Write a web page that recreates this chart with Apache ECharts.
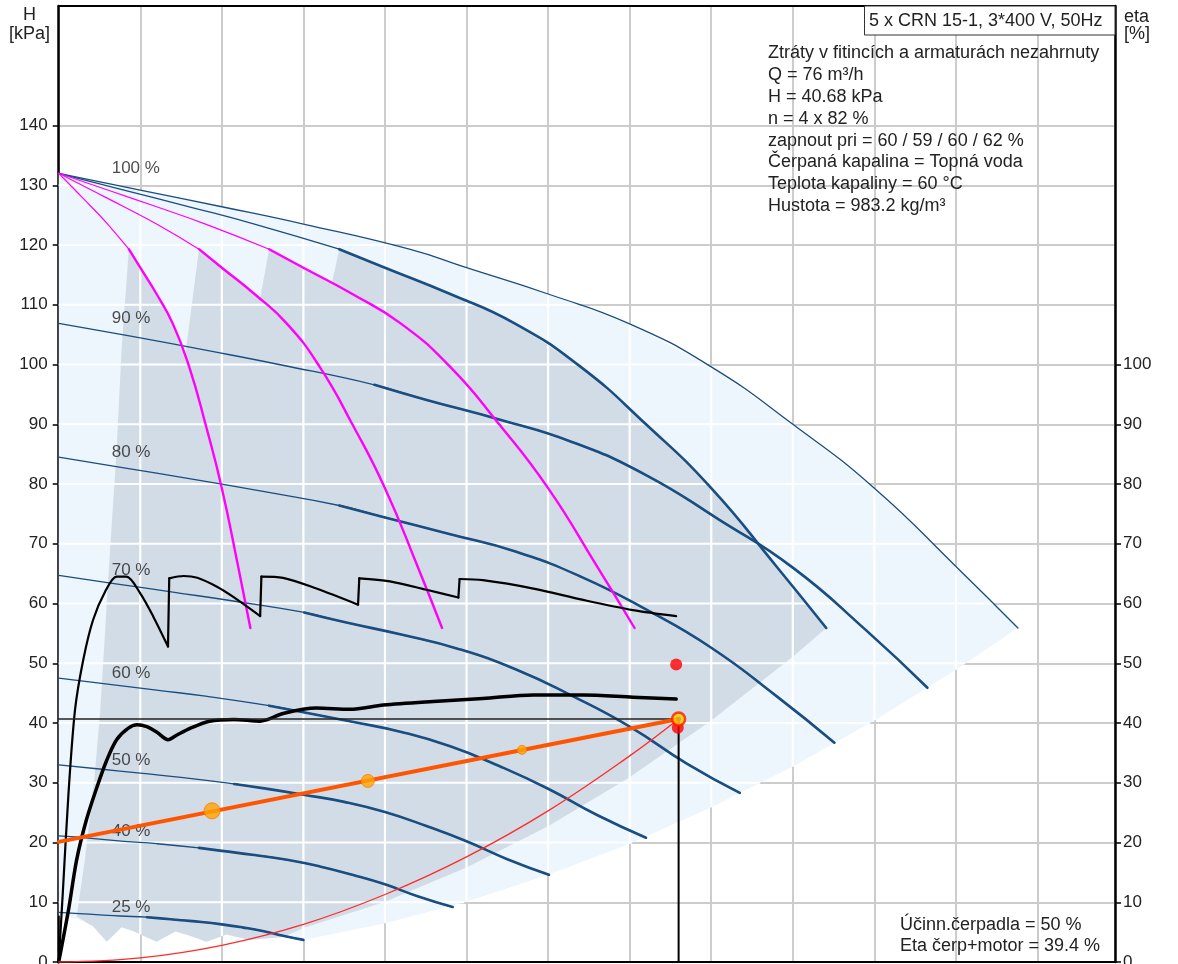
<!DOCTYPE html>
<html>
<head>
<meta charset="utf-8">
<script src="https://cdn.jsdelivr.net/npm/echarts@6/dist/echarts.min.js"></script>
<style>
  html, body { margin: 0; padding: 0; background: #fff; }
  #chart { width: 1178px; height: 964px; }
</style>
</head>
<body>
<div id="chart"></div>
<script>
// ---- pump curves at 100 % speed (1..5 pumps share the head values)
const headFull = [132, 129.2, 126.4, 123.5, 119.3, 116.2, 111.8, 106.8, 99.6, 90, 79.3, 66.2, 55.9];
const q1Pump = [0, 2, 4, 6, 8.6, 10, 12, 14, 16, 18, 20, 22, 23.5];
const q2Pump = [0, 4, 8, 12, 17.2, 20, 24, 28, 32, 36, 40, 44, 47];
const q3Pump = [0, 6, 12, 18, 25.8, 30, 36, 42, 48, 54, 60, 66, 70.6];
const q4Pump = [0, 8, 16, 24, 34.4, 40, 48, 56, 64, 72, 80, 88, 94.1];
const q5Pump = [0, 10, 20, 30, 43, 50, 60, 70, 80, 90, 100, 110, 117.6];

// ---- speed curves (5 pumps)
const speedNames = ['100 %', '90 %', '80 %', '70 %', '60 %', '50 %', '40 %', '25 %'];
const speedQ = [
  q5Pump,
  [0, 9, 18, 27, 38.7, 45, 54, 63, 72, 81, 90, 99, 106.5],
  [0, 8, 16, 24, 34.4, 40, 48, 56, 64, 72, 80, 88, 95.1],
  [0, 7, 14, 21, 30.1, 35, 42, 49, 56, 63, 70, 77, 83.5],
  [0, 6, 12, 18, 25.8, 30, 36, 42, 48, 54, 60, 66, 72],
  [0, 5, 10, 15, 21.5, 25, 30, 35, 40, 45, 50, 55, 60.1],
  [0, 4, 8, 12, 17.2, 20, 24, 28, 32, 36, 40, 44, 48.3],
  [0, 2.5, 5, 7.5, 10.8, 12.5, 15, 17.5, 20, 22.5, 25, 27.5, 30]
];
const speedH = [
  headFull,
  [106.9, 104.7, 102.4, 100, 96.6, 94.1, 90.8, 87, 81.5, 74, 66, 55.5, 45.9],
  [84.5, 82.7, 80.9, 79, 76.4, 74.4, 71.6, 68.7, 64.5, 59, 52.6, 44.5, 36.7],
  [64.7, 63.3, 61.9, 60.5, 58.5, 56.9, 54.8, 52.4, 49, 44.5, 39.4, 33.2, 28.3],
  [47.5, 46.5, 45.5, 44.5, 42.9, 41.8, 40.2, 38.5, 36.1, 32.8, 29, 24.6, 20.8],
  [33, 32.3, 31.6, 30.9, 29.8, 29.1, 28, 26.8, 25.1, 22.8, 20.2, 17.2, 14.6],
  [21.1, 20.7, 20.2, 19.8, 19.1, 18.6, 17.9, 17.1, 16, 14.6, 13, 11, 9.2],
  [8.3, 8.1, 7.9, 7.7, 7.5, 7.3, 7, 6.7, 6.3, 5.8, 5.2, 4.4, 3.7]
];

// ---- operating area boundaries
const minFlowQ = [8.6, 7.7, 7.1, 6.3, 5.1, 4.4, 3.2, 2.2];
const minFlowH = [119.3, 102.4, 85.7, 69, 42.2, 31, 17, 7.6];
const switchQ = [15.5, 24.7, 33.5];
const switchH = [101.4, 111.1, 113.6];
const limit4Q = [94.1, 90, 80, 70, 60, 50, 40, 30];
const limit4H = [55.9, 51.1, 40.4, 30.9, 22.7, 15.8, 10.1, 5.7];
const limit5Q = [117.6, 110, 100, 90, 80, 70, 60, 50, 40, 30];
const limit5H = [55.9, 48.9, 40.4, 32.7, 25.9, 19.8, 14.6, 10.1, 6.5, 3.7];
const floorQ = [27.5, 23.4, 20.6, 18.1, 16.1, 14.3, 12, 9.1, 7.7, 5.9, 4.2, 2.2, 0];
const floorH = [4.2, 3.7, 4.6, 3.4, 4.4, 5.1, 3.4, 5.2, 5.8, 3.4, 6.0, 7.3, 7.8];

// ---- efficiency curves
const etaPumpQ = [0, 0.5, 1.2, 2, 3, 4.2, 5.7, 7.1, 8.3, 10, 11.6, 13.4, 13.55, 15.3, 17, 19.4, 21.4, 24.7, 24.85, 27.5, 31.6, 36.7, 36.85, 40.6, 45.1, 49, 49.15, 52, 58.2, 64.3, 70.4, 75.7];
const etaPumpH = [0, 11.5, 28.2, 42.2, 50.5, 57.2, 62, 64.5, 64.5, 61.7, 57.8, 52.8, 64.2, 64.6, 64.3, 62.8, 61.1, 57.9, 64.5, 64.3, 62.5, 59.8, 64.2, 63.7, 62.3, 61, 64.1, 63.9, 62.5, 60.6, 58.9, 57.9];
const etaTotalQ = [0, 1.2, 2.2, 3.4, 4.7, 5.9, 7.1, 8.5, 9.6, 10.8, 12, 13.4, 14.5, 16.1, 18.5, 21.5, 24.7, 27.5, 31.6, 35.7, 39.8, 45.9, 52, 58.2, 64.3, 70.4, 75.7];
const etaTotalH = [0, 8.7, 17.1, 23.8, 29.3, 33.8, 37.2, 39.1, 39.7, 39.4, 38.5, 37.2, 38, 39.1, 40.3, 40.6, 40.3, 41.6, 42.5, 42.3, 43, 43.6, 44.1, 44.7, 44.7, 44.3, 44];

// ---- system / control curves, duty point
const systemQ = [0, 10, 20, 30, 40, 50, 60, 70, 76];
const systemH = [0, 0.7, 2.8, 6.3, 11.3, 17.6, 25.3, 34.5, 40.68];
const controlQ = [0, 76];
const controlH = [20.1, 40.68];
const controlMarkQ = [18.8, 37.9, 56.8];
const controlMarkH = [25.3, 30.3, 35.5];
const dutyQ = 76;
const dutyH = 40.68;
const redDotQ = [75.9, 75.7];
const redDotH = [39.2, 49.8];

// ---- axis labels
const leftTicks = [0, 10, 20, 30, 40, 50, 60, 70, 80, 90, 100, 110, 120, 130, 140];
const rightTicks = [0, 10, 20, 30, 40, 50, 60, 70, 80, 90, 100];
const infoTitle = '5 x CRN 15-1, 3*400 V, 50Hz';
const infoLines = [
  'Ztráty v fitincích a armaturách nezahrnuty',
  'Q = 76 m³/h',
  'H = 40.68 kPa',
  'n = 4 x 82 %',
  'zapnout pri = 60 / 59 / 60 / 62 %',
  'Čerpaná kapalina = Topná voda',
  'Teplota kapaliny = 60 °C',
  'Hustota = 983.2 kg/m³'
];
const bottomLines = ['Účinn.čerpadla = 50 %', 'Eta čerp+motor = 39.4 %'];

const X_MAX = 129.5, Y_MAX = 160;
const FONT = '"Liberation Sans", Arial, sans-serif';
const BLUE = '#1a4d80';
const MAGENTA = '#ff00ff';

function zip(qs, hs, from, to) {
  const out = [];
  for (let i = from || 0; i < (to === undefined ? qs.length : to); i++) out.push([qs[i], hs[i]]);
  return out;
}

// outer (light) area: 5 pump envelope
const outerPoly = [].concat(
  zip(q5Pump, headFull),
  zip(limit5Q, limit5H, 1),
  zip(floorQ, floorH)
);

// inner (dark) area: staged operation
let darkPoly = [];
[q1Pump, q2Pump, q3Pump].forEach((qs, k) => {
  zip(qs, headFull, 4).forEach(p => { if (p[0] < switchQ[k]) darkPoly.push(p); });
  darkPoly.push([switchQ[k], switchH[k]]);
});
darkPoly = darkPoly.concat(zip(q4Pump, headFull, 4), zip(limit4Q, limit4H, 1));
floorQ.forEach((q, i) => { if (q > minFlowQ[minFlowQ.length - 1]) darkPoly.push([q, floorH[i]]); });
darkPoly = darkPoly.concat(zip(minFlowQ, minFlowH).reverse());

function inside(poly, x, y) {
  let c = false;
  for (let i = 0, j = poly.length - 1; i < poly.length; j = i++) {
    const xi = poly[i][0], yi = poly[i][1], xj = poly[j][0], yj = poly[j][1];
    if ((yi > y) !== (yj > y) && x < (xj - xi) * (y - yi) / (yj - yi) + xi) c = !c;
  }
  return c;
}

// grid lines are white where they cross the shaded area
const whiteSegs = [];
function runs(fixed, vertical, max, step) {
  let start = null;
  for (let t = 0; t <= max + 1e-9; t += step) {
    const inn = vertical ? inside(outerPoly, fixed, t) : inside(outerPoly, t, fixed);
    if (inn && start === null) start = t;
    if ((!inn || t + step > max) && start !== null) {
      const end = inn ? t : t - step;
      whiteSegs.push(vertical ? [fixed, start, fixed, end] : [start, fixed, end, fixed]);
      start = null;
    }
  }
}
for (let v = 10; v < X_MAX; v += 10) runs(v, true, Y_MAX, 0.05);
for (let v = 10; v < Y_MAX; v += 10) runs(v, false, X_MAX, 0.05);

function polySeries(poly, color) {
  return {
    type: 'custom', silent: true, z: 1, clip: true, data: [[0, 0]],
    renderItem: (params, api) => ({
      type: 'polygon',
      shape: { points: poly.map(p => api.coord(p)) },
      style: { fill: color }
    })
  };
}

function curve(data, color, width, z, smooth) {
  return {
    type: 'line', data, showSymbol: false, silent: true, z: z || 3,
    smooth: smooth === undefined ? 0.5 : smooth,
    lineStyle: { color, width, cap: 'round', join: 'round' }
  };
}

// a curve with vertical steps: smooth pieces joined by straight jumps
function steppedCurve(qs, hs, color, width, z) {
  const out = [];
  let piece = [[qs[0], hs[0]]];
  for (let i = 1; i < qs.length; i++) {
    if (qs[i] - qs[i - 1] < 0.3) {
      out.push(curve(piece, color, width, z, 0.3));
      out.push(curve([[qs[i - 1], hs[i - 1]], [qs[i], hs[i]]], color, width, z, false));
      piece = [];
    }
    piece.push([qs[i], hs[i]]);
  }
  out.push(curve(piece, color, width, z, 0.3));
  return out;
}

const series = [
  polySeries(outerPoly, '#edf5fd'),
  polySeries(darkPoly, '#d1dce7'),
  {
    type: 'custom', silent: true, z: 1, clip: true, data: whiteSegs,
    encode: { x: [0, 2], y: [1, 3] },
    renderItem: (params, api) => {
      const a = api.coord([api.value(0), api.value(1)]);
      const b = api.coord([api.value(2), api.value(3)]);
      return { type: 'line', shape: { x1: a[0], y1: a[1], x2: b[0], y2: b[1] }, style: { stroke: '#ffffff', lineWidth: 2.2 } };
    }
  }
];

// speed curves: thin at low flow, thick in the working range
speedQ.forEach((qs, i) => {
  series.push(curve(zip(qs, speedH[i]), BLUE, 1.3, 3));
  if (i > 0) series.push(curve(zip(qs, speedH[i], 4), BLUE, 2.6, 3));
});
// 4 pumps at 100 %
series.push(curve(zip(q4Pump, headFull, 0, 5), BLUE, 1.3, 3));
series.push(curve(zip(q4Pump, headFull, 4), BLUE, 2.6, 3));
// 1..3 pumps at 100 %
[q1Pump, q2Pump, q3Pump].forEach(qs => {
  series.push(curve(zip(qs, headFull, 0, 5), MAGENTA, 1.2, 4));
  series.push(curve(zip(qs, headFull, 4), MAGENTA, 2.4, 4));
});

// speed labels
series.push({
  type: 'scatter', symbolSize: 0, silent: true, z: 5,
  data: speedNames.map((n, i) => ({ name: n, value: [speedQ[i][0], speedH[i][0]] })),
  label: {
    show: true, formatter: '{b}', position: [53, -5], align: 'left', verticalAlign: 'middle',
    fontSize: 17, fontFamily: FONT, color: '#222'
  }
});

steppedCurve(etaPumpQ, etaPumpH, '#000', 2.2, 6).forEach(s => series.push(s));
series.push(curve(zip(etaTotalQ, etaTotalH), '#000', 3.5, 6, 0.3));
// duty point guide lines
series.push(curve([[0, dutyH], [dutyQ, dutyH]], '#222', 1.5, 6, false));
series.push(curve([[dutyQ, dutyH], [dutyQ, 0]], '#000', 2, 6, false));
// system curve
series.push(curve(zip(systemQ, systemH), '#ff2a2a', 1.3, 7, 0.4));
// control curve
series.push(curve(zip(controlQ, controlH), '#ff5500', 4, 7, false));
const markSizes = [16, 13, 9];
series.push({
  type: 'scatter', silent: true, z: 8,
  data: controlMarkQ.map((q, i) => ({ value: [q, controlMarkH[i]], symbolSize: markSizes[i] })),
  itemStyle: { color: '#ffa500', borderColor: '#ff7a00', borderWidth: 1 }
});
series.push({
  type: 'scatter', silent: true, z: 8, symbolSize: 12,
  data: zip(redDotQ, redDotH),
  itemStyle: { color: '#ff0000' }
});
series.push({
  type: 'scatter', silent: true, z: 9, symbolSize: 13,
  data: [[dutyQ, dutyH]],
  itemStyle: { color: '#ffd000', borderColor: '#ff1a00', borderWidth: 2.5 }
});
series.push({
  type: 'scatter', silent: true, z: 10, symbolSize: 5,
  data: [[dutyQ, dutyH]],
  itemStyle: { color: '#e89a20' }
});

const textStyle = (text, x, y, extra) => ({
  type: 'text', x, y, z: 100,
  style: Object.assign({
    text, fill: '#222', font: '18px ' + FONT,
    textAlign: 'left', align: 'left', textVerticalAlign: 'middle', verticalAlign: 'middle'
  }, extra || {})
});

const graphic = [
  { type: 'rect', z: 99, shape: { x: 864.5, y: 6, width: 250.5, height: 29 }, style: { fill: '#fff', stroke: '#333', lineWidth: 1 } },
  textStyle(infoTitle, 869, 21),
  textStyle('H', 29.5, 15.5, { textAlign: 'center', align: 'center' }),
  textStyle('[kPa]', 29.5, 34, { textAlign: 'center', align: 'center' }),
  textStyle('eta', 1124, 17),
  textStyle('[%]', 1124, 34.5)
];
infoLines.forEach((t, i) => graphic.push(textStyle(t, 768, 53 + i * 21.9)));
bottomLines.forEach((t, i) => graphic.push(textStyle(t, 900, 925.5 + i * 20.5)));

const chart = echarts.init(document.getElementById('chart'));
chart.setOption({
  animation: false,
  grid: { left: 58.7, right: 63, top: 6, bottom: 2, containLabel: false, outerBoundsMode: 'none' },
  xAxis: [
    {
      type: 'value', min: 0, max: X_MAX, interval: 10,
      axisLine: { show: true, onZero: false, lineStyle: { color: '#000', width: 2 } },
      axisTick: { show: false }, axisLabel: { show: false },
      splitLine: { show: true, lineStyle: { color: '#cccccc', width: 2 } }
    },
    {
      type: 'value', position: 'top', min: 0, max: X_MAX, interval: 10,
      axisLine: { show: true, onZero: false, lineStyle: { color: '#000', width: 2 } },
      axisTick: { show: false }, axisLabel: { show: false }, splitLine: { show: false }
    }
  ],
  yAxis: [
    {
      type: 'value', position: 'left', min: 0, max: Y_MAX, interval: 10,
      axisLine: { show: true, onZero: false, lineStyle: { color: '#000', width: 2.5 } },
      axisTick: { show: true, length: 6, customValues: leftTicks, lineStyle: { color: '#000', width: 1.5 } },
      axisLabel: { customValues: leftTicks, fontSize: 17, fontFamily: FONT, color: '#222', margin: 11 },
      splitLine: { show: true, lineStyle: { color: '#cccccc', width: 2 } }
    },
    {
      type: 'value', position: 'right', min: 0, max: Y_MAX, interval: 10,
      axisLine: { show: true, onZero: false, lineStyle: { color: '#000', width: 2.5 } },
      axisTick: { show: true, length: 6, customValues: rightTicks, lineStyle: { color: '#000', width: 1.5 } },
      axisLabel: { customValues: rightTicks, fontSize: 17, fontFamily: FONT, color: '#222', margin: 8 },
      splitLine: { show: false }
    }
  ],
  series,
  graphic
});
</script>
</body>
</html>
